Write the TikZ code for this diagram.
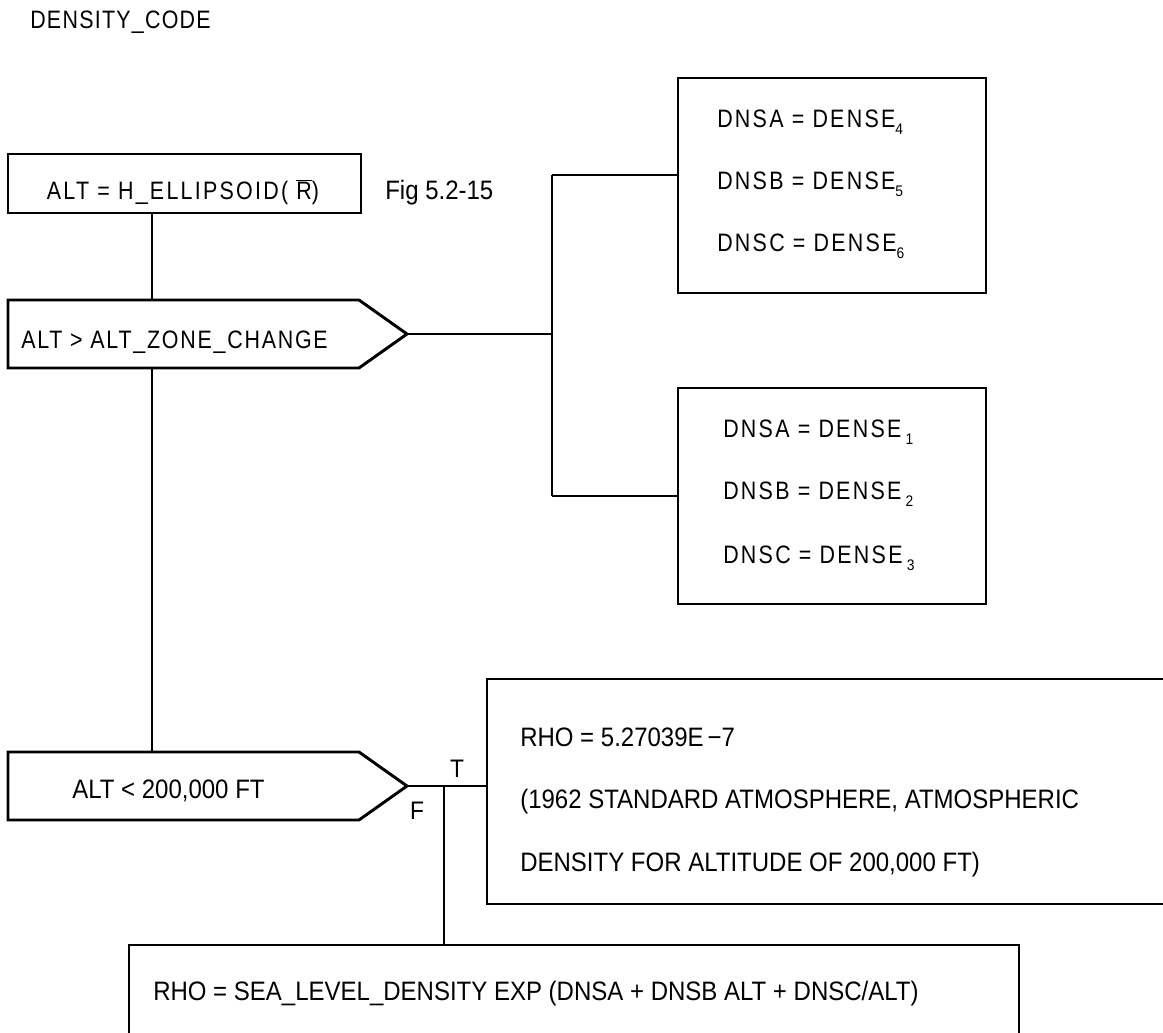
\documentclass[tikz,border=0pt]{standalone}
\usepackage{fontspec}
\setmainfont{Liberation Sans}
\newfontfamily\nf{Liberation Sans}[FakeStretch=0.9]
\newfontfamily\sfa{Liberation Sans}[FakeStretch=0.85,LetterSpace=5]
\newfontfamily\sfc{Liberation Sans}[FakeStretch=0.85,LetterSpace=7]
\newfontfamily\sfb{Liberation Sans}[FakeStretch=0.85,LetterSpace=9]
\usetikzlibrary{shapes.symbols}
\newcommand{\subx}[1]{\raisebox{-0.3em}{\fontsize{11.5}{12}\nf #1}}
\begin{document}
\begin{tikzpicture}[x=0.75pt,y=-0.75pt,
  boxline/.style={draw=black,line width=2.2pt,inner sep=0pt,outer sep=0pt},
  rbox/.style 2 args={boxline,rectangle,anchor=north west,minimum width=#1*0.75pt,minimum height=#2*0.75pt},
  pent/.style={boxline,signal,signal to=east,signal pointer angle=70.6,
     minimum width=399*0.75pt,minimum height=68*0.75pt,anchor=west},
  conn/.style={line width=1.8pt},
  txn/.style={inner sep=0pt,anchor=base west,font=\fontsize{20}{24}\nf},
  txa/.style={inner sep=0pt,anchor=base west,font=\fontsize{18.9}{23}\sfa},
  txc/.style={inner sep=0pt,anchor=base west,font=\fontsize{18.9}{23}\sfc},
  txb/.style={inner sep=0pt,anchor=base west,font=\fontsize{18.9}{23}\sfb},
  lbl/.style={inner sep=0pt,anchor=base,font=\fontsize{19}{23}\nf}]
\useasboundingbox (0,0) rectangle (1163,1032);
\fill[white] (0,0) rectangle (1163,1032);

% title
\node[txa] (title) at (30,28) {DENSITY\_CODE};

% boxes
\node[rbox={353}{59}] (b1) at (8,154) {};
\node[inner sep=0pt,anchor=base,font=\fontsize{18.9}{23}\sfb] (b1t) at (183,199) {ALT = H\_ELLIPSOID( $\overline{\hbox{R}}$)};
\node[txn] (fig) at (385,199) {Fig 5.2-15};

\node[pent] (p1) at (8,334) {};
\node[txc] (p1t) at (21,348) {ALT > ALT\_ZONE\_CHANGE};

\node[rbox={308}{215}] (tb) at (678,78) {};
\node[txb] (tb1) at (717,127) {DNSA = DENSE\subx{4}};
\node[txb] (tb2) at (717,189) {DNSB = DENSE\subx{5}};
\node[txb] (tb3) at (717,251) {DNSC = DENSE\subx{6}};

\node[rbox={308}{216}] (lb) at (678,388) {};
\node[txb] (lb1) at (723,437) {DNSA = DENSE\,\subx{1}};
\node[txb] (lb2) at (723,499) {DNSB = DENSE\,\subx{2}};
\node[txb] (lb3) at (723,563) {DNSC = DENSE\,\subx{3}};

\node[pent] (p2) at (8,786) {};
\node[txn] (p2t) at (72,798) {ALT < 200,000 FT};

\node[rbox={720}{225}] (rho) at (487,679) {};
\node[txn] (r1) at (520,746) {RHO = 5.27039E\kern3pt−7};
\node[txn] (r2) at (520,808) {(1962 STANDARD ATMOSPHERE, ATMOSPHERIC};
\node[txn] (r3) at (520,871) {DENSITY FOR ALTITUDE OF 200,000 FT)};

\node[rbox={890}{130}] (bot) at (129,945) {};
\node[txn] (bt) at (153,1000) {RHO = SEA\_LEVEL\_DENSITY EXP (DNSA + DNSB ALT + DNSC/ALT)};

\node[lbl] (tl) at (457,777) {T};
\node[lbl] (fl) at (417,819) {F};

% connectors
\coordinate (cx) at (152,0);
\coordinate (jt) at (552,175);
\coordinate (jb) at (552,496);
\coordinate (jf) at (444,786);
\draw[conn] (cx |- b1.south) -- (cx |- p1.north);
\draw[conn] (cx |- p1.south) -- (cx |- p2.north);
\draw[conn] (p1.east) -- (p1.east -| jt);
\draw[conn] (jt) -- (jb);
\draw[conn] (jt) -- (jt -| tb.west);
\draw[conn] (jb) -- (jb -| lb.west);
\draw[conn] (p2.east) -- (p2.east -| rho.west);
\draw[conn] (jf) -- (jf |- bot.north);
\end{tikzpicture}
\end{document}
